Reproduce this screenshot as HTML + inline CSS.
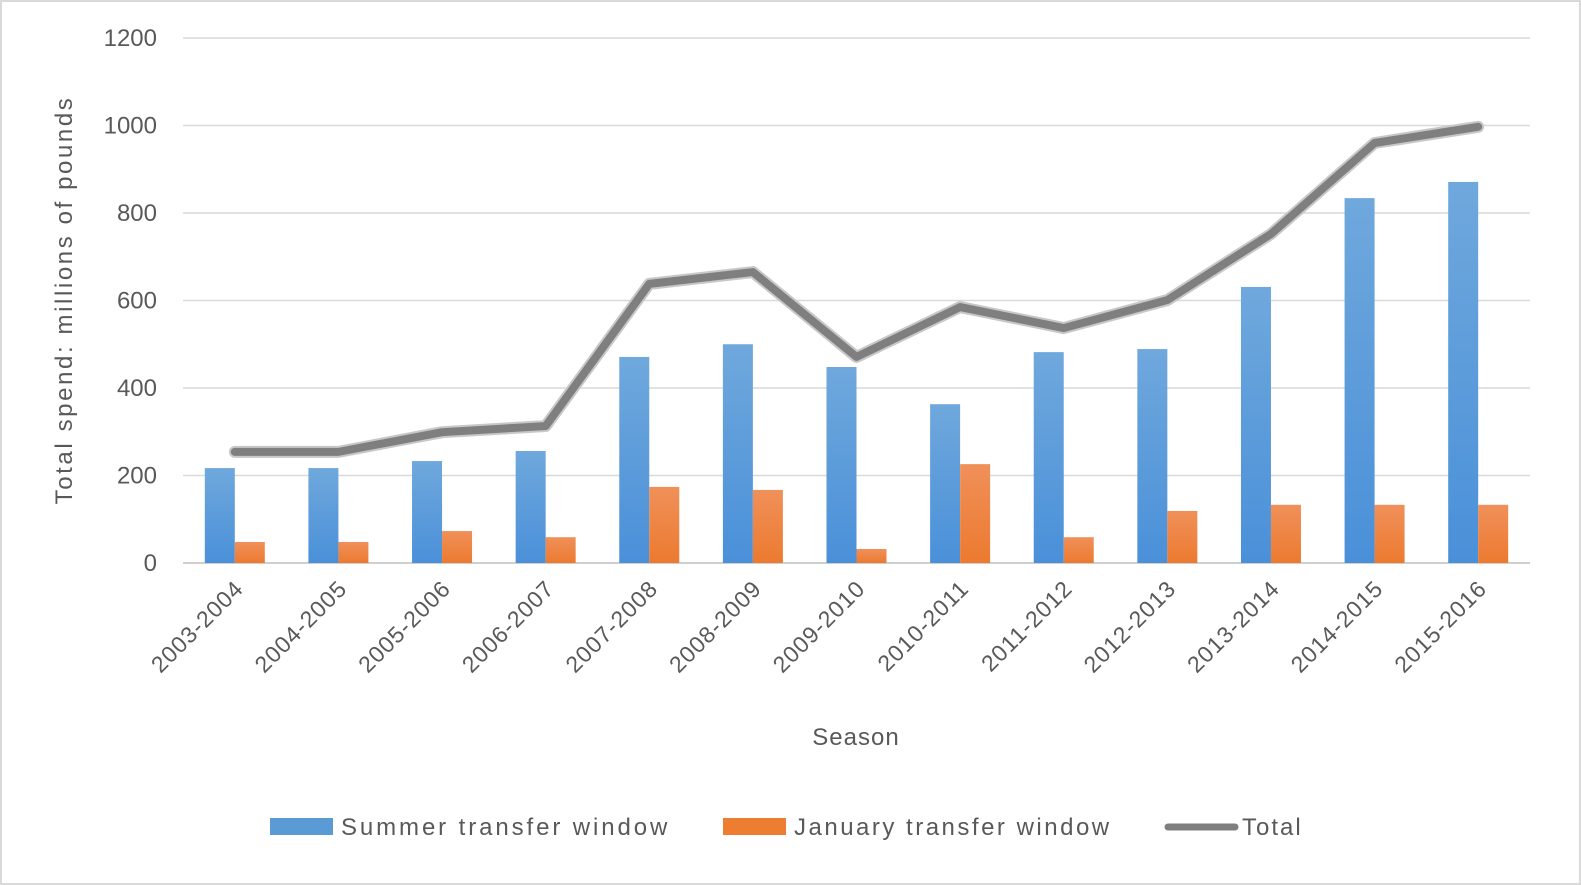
<!DOCTYPE html>
<html><head><meta charset="utf-8"><style>
html,body{margin:0;padding:0;background:#fff;}
svg{display:block;font-family:"Liberation Sans",sans-serif;}
</style></head><body>
<svg id="chart" width="1581" height="885" viewBox="0 0 1581 885">
<defs>
<linearGradient id="gb" x1="0" y1="0" x2="0" y2="1"><stop offset="0" stop-color="#6fa8dc"/><stop offset="1" stop-color="#4a90d9"/></linearGradient>
<linearGradient id="go" x1="0" y1="0" x2="0" y2="1"><stop offset="0" stop-color="#f0905a"/><stop offset="1" stop-color="#ec7a2f"/></linearGradient>
</defs>
<rect x="1" y="1" width="1579" height="883" fill="#fff" stroke="#d9d9d9" stroke-width="2"/>
<g id="grid"></g><g id="bars"></g><g id="line"></g><g id="labels"></g>
<text x="0" y="0" transform="translate(72,300) rotate(-90)" text-anchor="middle" font-size="24" letter-spacing="2.6" fill="#595959">Total spend: millions of pounds</text>
<text x="856" y="745" text-anchor="middle" font-size="24" letter-spacing="1" fill="#595959">Season</text>
<g>
<g><rect x="270" y="818" width="63" height="17" fill="#5b9bd5"/><text x="341" y="835" font-size="24" letter-spacing="2.9" fill="#595959">Summer transfer window</text></g>
<g><rect x="723" y="818" width="63" height="17" fill="#ed7d31"/><text x="794" y="835" font-size="24" letter-spacing="2.5" fill="#595959">January transfer window</text></g>
<g><line x1="1168" y1="827" x2="1235" y2="827" stroke="#7f7f7f" stroke-width="7" stroke-linecap="round"/><text x="1242" y="835" font-size="24" letter-spacing="2" fill="#595959">Total</text></g>
</g>
</svg>
<script>
const categories=["2003-2004","2004-2005","2005-2006","2006-2007","2007-2008","2008-2009","2009-2010","2010-2011","2011-2012","2012-2013","2013-2014","2014-2015","2015-2016"];
const summer=[217,217,233,256,471,500,448,363,482,489,631,834,871];
const january=[48,48,73,59,174,167,32,226,59,119,133,133,133];
const total=[254,254,299,313,638,665,471,585,537,601,752,960,997];
const yTicks=[0,200,400,600,800,1000,1200];
const NS="http://www.w3.org/2000/svg";
const x0=183,x1=1530,y0=563,y1=38,ymax=1200;
const band=(x1-x0)/categories.length;
const y=v=>y0-(v/ymax)*(y0-y1);
const cx=i=>x0+band*(i+0.5);
function mk(t,a,p){const e=document.createElementNS(NS,t);for(const k in a)e.setAttribute(k,a[k]);p.appendChild(e);return e;}
const grid=document.getElementById('grid'),bars=document.getElementById('bars'),line=document.getElementById('line'),labels=document.getElementById('labels');
yTicks.forEach(v=>{
 const g=mk('line',{x1:x0,x2:x1,y1:y(v),y2:y(v),stroke:v===0?'#bfbfbf':'#d9d9d9','stroke-width':1.5},grid);
 
 
 const t=mk('text',{x:157,y:y(v)+8,'text-anchor':'end','font-size':24,fill:'#595959'},labels);
 t.textContent=v;
 
 
});
const bw=30;
categories.forEach((c,i)=>{
 const b=mk('rect',{x:cx(i)-bw,y:y(summer[i]),width:bw,height:y0-y(summer[i]),fill:'url(#gb)'},bars);
 
 
 const o=mk('rect',{x:cx(i),y:y(january[i]),width:bw,height:y0-y(january[i]),fill:'url(#go)'},bars);
 
 
 const tx=cx(i)+10,ty=590;
 const t=mk('text',{x:tx,y:ty,'text-anchor':'end','font-size':23,'letter-spacing':1,fill:'#595959',transform:`rotate(-45 ${tx} ${ty})`},labels);
 t.textContent=c;
 
 
});
const pts=total.map((v,i)=>cx(i)+','+y(v)).join(' ');
const l1=mk('polyline',{points:pts,fill:'none',stroke:'#c8c8c8','stroke-width':12,'stroke-linejoin':'round','stroke-linecap':'round'},line);


const l2=mk('polyline',{points:pts,fill:'none',stroke:'#7f7f7f','stroke-width':8,'stroke-linejoin':'round','stroke-linecap':'round'},line);


</script>
</body></html>
